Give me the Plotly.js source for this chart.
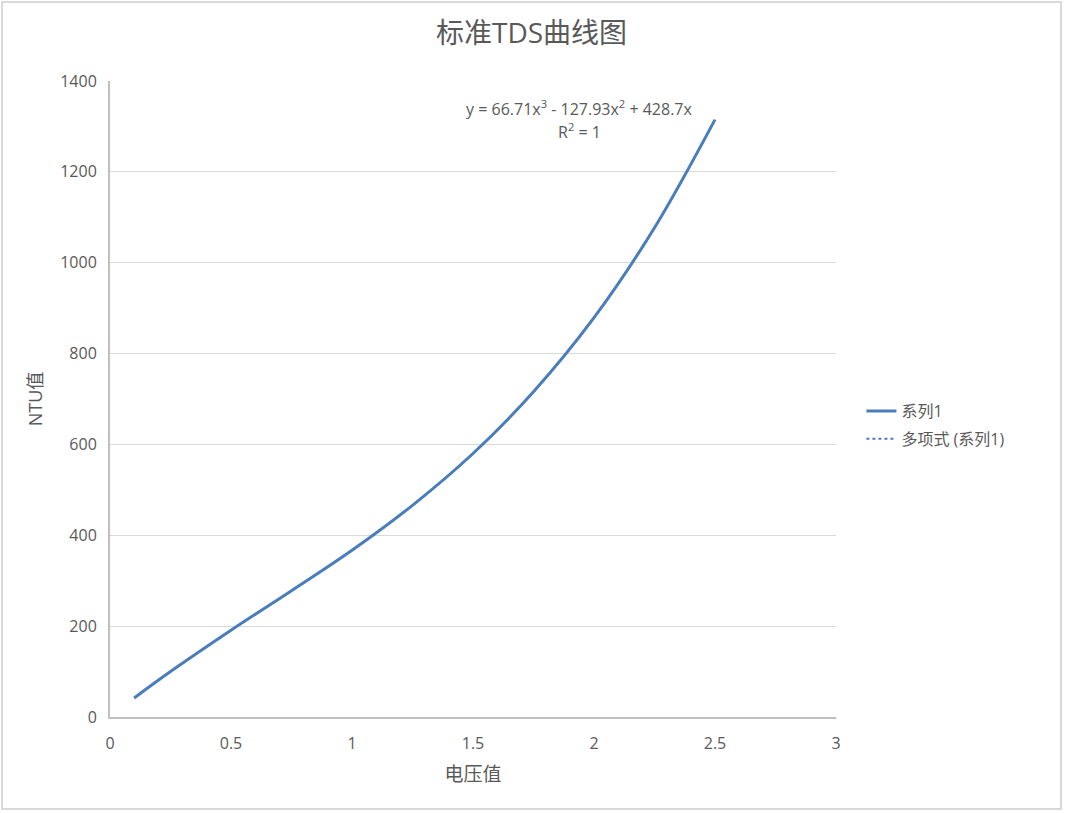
<!DOCTYPE html>
<html>
<head>
<meta charset="utf-8">
<script src="https://cdn.plot.ly/plotly-3.0.1.min.js"></script>
<style>
  body { margin: 0; background: #fff; }
  #frame { position: absolute; left: 1px; top: 1px; width: 1057px; height: 805px; border: 2px solid #d9d9d9; }
  #gd { width: 1057px; height: 805px; }
</style>
</head>
<body>
<div id="frame"><div id="gd"></div></div>
<script>
// values
const voltage = [0.1, 0.25, 0.5, 0.75, 1.0, 1.25, 1.5, 1.75, 2.0, 2.25, 2.5];
const ntu = [42, 100, 191, 278, 367, 466, 580, 716, 879, 1077, 1315];

const fontFam = 'Open Sans, "Noto Sans CJK SC", sans-serif';
const grey = '#595959';

let series1 = {
    x: voltage,
    y: ntu,
    name: '系列1',
    legendgroup: 'a',
    mode: 'lines',
    line: { color: '#4a7ebb', width: 3, shape: 'spline' }
};

let trend = {
    x: voltage,
    y: ntu,
    name: '多项式 (系列1)',
    legendgroup: 'b',
    mode: 'lines',
    line: { color: '#4a7ebb', width: 2, dash: 'dot', shape: 'spline' }
};

let layout = {
    title: {
        text: '标准TDS曲线图',
        font: { family: fontFam, size: 28, color: grey },
        x: 0.5, xanchor: 'center',
        y: 0.963, yanchor: 'middle'
    },
    xaxis: {
        range: [0, 3],
        dtick: 0.5,
        showgrid: false,
        zeroline: false,
        showline: true,
        linecolor: '#bfbfbf',
        linewidth: 2,
        tickfont: { family: fontFam, size: 16, color: grey },
        ticklen: 0,
        ticklabelstandoff: 11,
        title: { text: '电压值', font: { family: fontFam, size: 19, color: grey }, standoff: 14 }
    },
    yaxis: {
        range: [0, 1400],
        dtick: 200,
        showgrid: true,
        gridcolor: '#d9d9d9',
        gridwidth: 1,
        zeroline: false,
        showline: true,
        linecolor: '#bfbfbf',
        linewidth: 2,
        tickfont: { family: fontFam, size: 16, color: grey },
        ticklen: 0,
        ticks: '',
        ticklabelstandoff: 8,
        title: { text: 'NTU值', font: { family: fontFam, size: 18, color: grey }, standoff: 13 }
    },
    annotations: [{
        xref: 'x', yref: 'y',
        x: 1.942, y: 1340,
        text: 'y = 66.71x<sup>3</sup> - 127.93x<sup>2</sup> + 428.7x',
        showarrow: false,
        font: { family: fontFam, size: 16, color: grey }
    }, {
        xref: 'x', yref: 'y',
        x: 1.942, y: 1289,
        text: 'R<sup>2</sup> = 1',
        showarrow: false,
        font: { family: fontFam, size: 16, color: grey }
    }],
    legend: {
        x: 1.035, xanchor: 'left',
        y: 0.459, yanchor: 'middle',
        font: { family: fontFam, size: 16, color: grey },
        tracegroupgap: 4
    },
    margin: { l: 107, r: 224, t: 78, b: 91 },
    paper_bgcolor: '#ffffff',
    plot_bgcolor: '#ffffff',
    width: 1057,
    height: 805
};

Plotly.newPlot('gd', [series1, trend], layout, { displayModeBar: false });
</script>
</body>
</html>
